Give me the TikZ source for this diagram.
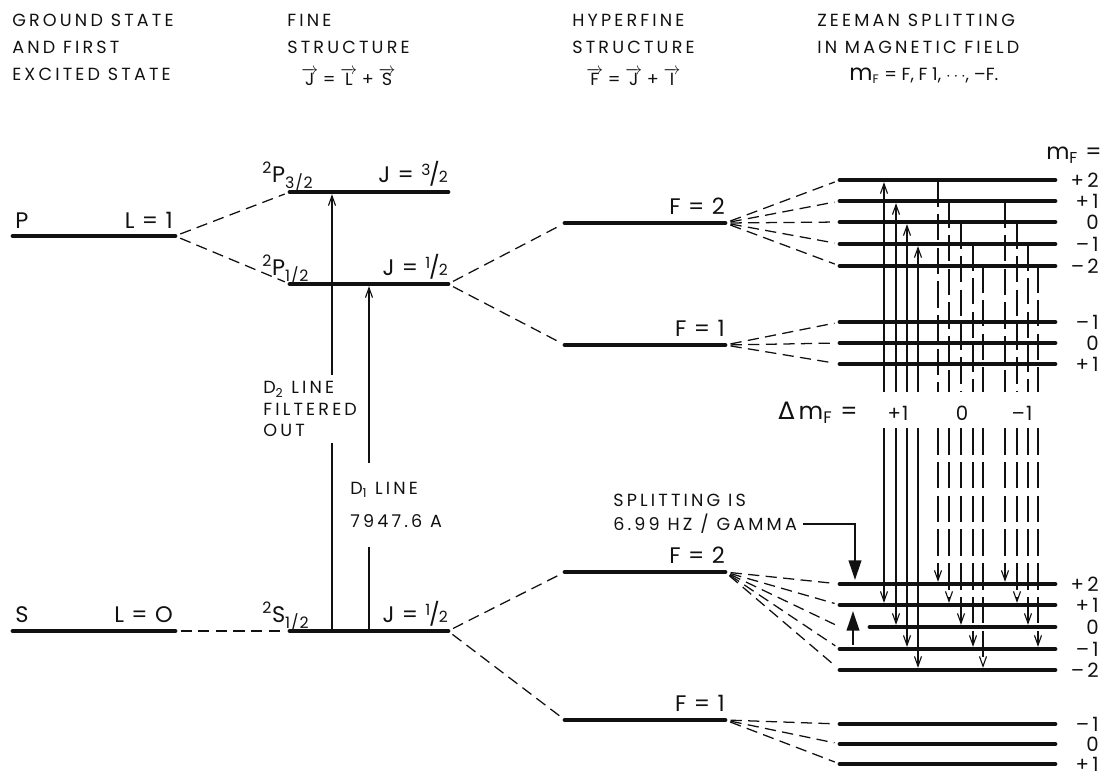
\documentclass[tikz,border=0pt]{standalone}
\usepackage{fontspec}
\usepackage{tikz}
\usetikzlibrary{arrows.meta,calc,positioning}
\setmainfont{Poppins}
\newfontfamily\capsfont[LetterSpace=18]{Poppins}
\newfontfamily\wideface[LetterSpace=6]{Poppins}
\newfontfamily\greekfont{DejaVu Sans}
\definecolor{ink}{HTML}{111111}
\newcommand{\slfrac}[2]{\raisebox{0.55ex}{\fontsize{11}{11}\selectfont #1}\kern-0.05em/\kern-0.05em{\fontsize{11}{11}\selectfont #2}}
\newcommand{\term}[3]{\textsuperscript{#1}#2\textsubscript{#3}}
\newcommand{\vecl}[1]{$\overrightarrow{\mbox{#1}}$}

\begin{document}
\begin{tikzpicture}[x=0.025cm, y=-0.025cm, ink,
    level/.style={line width=3.4pt, line cap=round},
    split/.style={line width=0.9pt, dash pattern=on 8pt off 4.5pt, shorten <=4pt, shorten >=4pt},
    trans/.style={line width=0.8pt},
    transdash/.style={trans, dash pattern=on 19pt off 5pt},
    tip/.style={-{Straight Barb[length=7pt,width=5pt]}, shorten >=1.5pt},
    bigtip/.style={-{Triangle[length=14pt,width=9pt]}},
    head/.style={font=\capsfont\fontsize{12.5}{19}\selectfont, align=left, inner sep=0pt},
    eqn/.style={font=\fontsize{12.5}{12.5}\selectfont, inner sep=0pt},
    lab/.style={font=\wideface\fontsize{16}{16}\selectfont, inner sep=0pt},
    mlab/.style={font=\wideface\fontsize{14}{14}\selectfont, inner sep=0pt, anchor=east},
    note/.style={font=\capsfont\fontsize{12.5}{15}\selectfont, inner sep=0pt, align=left}]

    \useasboundingbox (0,0) rectangle (1107,777);

    % Column headings
    \node[head, anchor=north west] (hground) at (12,14) {GROUND STATE\\AND FIRST\\EXCITED STATE};
    \node[head, anchor=north west] (hfine) at (287,14) {FINE\\STRUCTURE};
    \node[eqn] (jls) [below=10pt of hfine] {\vecl{J} = \vecl{L} + \vecl{S}};
    \node[head, anchor=north west] (hhyper) at (572,14) {HYPERFINE\\STRUCTURE};
    \node[eqn] (fji) [below=10pt of hhyper] {\vecl{F} = \vecl{J} + \vecl{I}};
    \node[head, anchor=north west] (hzeeman) at (817,14) {ZEEMAN SPLITTING\\IN MAGNETIC FIELD};
    \node[eqn] (mfdef) [below=10pt of hzeeman, xshift=4pt] {{\fontsize{16}{16}\selectfont m}\textsubscript{F} = F, F 1, $\cdots$, \textendash F.};

    % Term levels
    \foreach \name/\xa/\xb/\y in {P/13/175/236, S/13/175/631, P32/290/448/192, P12/290/448/284,
                                  S12/290/448/631, UF2/565/725/223, UF1/565/725/345,
                                  LF2/565/725/572, LF1/565/725/720} {
        \coordinate (\name-l) at (\xa,\y);
        \coordinate (\name-r) at (\xb,\y);
        \draw[level] (\name-l) -- (\name-r);
    }

    % Level labels
    \node[lab, anchor=base west] (tP) at (15,228) {P};
    \node[lab, anchor=base east] (tL1) at (173,228) {L = 1};
    \node[lab, anchor=base west] (tS) at (15,622) {S};
    \node[lab, anchor=base east] (tL0) at (173,622) {L = O};
    \node[lab, anchor=base west] (tP32) at (262,182) {\term{2}{P}{3/2}};
    \node[lab, anchor=base east] (tJ32) at (448,182) {J = \slfrac{3}{2}};
    \node[lab, anchor=base west] (tP12) at (262,275) {\term{2}{P}{1/2}};
    \node[lab, anchor=base east] (tJ12) at (448,275) {J = \slfrac{1}{2}};
    \node[lab, anchor=base west] (tS12) at (262,622) {\term{2}{S}{1/2}};
    \node[lab, anchor=base east] (tJS) at (448,622) {J = \slfrac{1}{2}};
    \node[lab, anchor=base east] (tUF2) at (725,214) {F = 2};
    \node[lab, anchor=base east] (tUF1) at (725,336) {F = 1};
    \node[lab, anchor=base east] (tLF2) at (725,563) {F = 2};
    \node[lab, anchor=base east] (tLF1) at (725,711) {F = 1};

    % Fine and hyperfine splitting
    \draw[split] (P-r) -- (P32-l);
    \draw[split] (P-r) -- (P12-l);
    \draw[split] (S-r) -- (S12-l);
    \draw[split] (P12-r) -- (UF2-l);
    \draw[split] (P12-r) -- (UF1-l);
    \draw[split] (S12-r) -- (LF2-l);
    \draw[split] (S12-r) -- (LF1-l);

    % Zeeman sublevels
    \node[lab, anchor=east] (mfhead) at (1102,155) {m\textsubscript{F} =};
    \foreach \m/\y/\lab in {2/180/+\,2, 1/201/+\,1, 0/222/0, -1/244/\textendash\,1, -2/266/\textendash\,2} {
        \coordinate (ua\m) at (840,\y);
        \draw[level] (ua\m) -- (1055,\y);
        \node[mlab] (tua\m) at (1099,\y) {\lab};
        \draw[split] (UF2-r) -- (ua\m);
    }
    \foreach \m/\y/\lab in {-1/322/\textendash\,1, 0/343/0, 1/364/+\,1} {
        \coordinate (ub\m) at (840,\y);
        \draw[level] (ub\m) -- (1055,\y);
        \node[mlab] (tub\m) at (1099,\y) {\lab};
        \draw[split] (UF1-r) -- (ub\m);
    }
    \foreach \m/\y/\xs/\lab in {2/584/840/+\,2, 1/605/840/+\,1, 0/627/870/0, -1/649/840/\textendash\,1, -2/670/840/\textendash\,2} {
        \coordinate (la\m) at (840,\y);
        \draw[level] (\xs,\y) -- (1055,\y);
        \node[mlab] (tla\m) at (1099,\y) {\lab};
        \draw[split] (LF2-r) -- (la\m);
    }
    \foreach \m/\y/\lab in {-1/724/\textendash\,1, 0/744/0, 1/764/+\,1} {
        \coordinate (lb\m) at (840,\y);
        \draw[level] (lb\m) -- (1055,\y);
        \node[mlab] (tlb\m) at (1099,\y) {\lab};
        \draw[split] (LF1-r) -- (lb\m);
    }

    % Transitions between sublevels
    \node[lab, font=\wideface\fontsize{17}{17}\selectfont] (dm) at (818,413) {{\greekfont Δ}\,m\textsubscript{F} =};
    \node[mlab, anchor=center] (dmp) at (898,413) {+1};
    \node[mlab, anchor=center] (dmz) at (962,413) {0};
    \node[mlab, anchor=center] (dmm) at (1022,413) {\textendash 1};
    \coordinate (gaptop) at (0,392);
    \coordinate (gapbot) at (0,428);
    \foreach \x/\up/\lo in {884/2/1, 896/1/0, 907/0/-1, 918/-1/-2} {
        \coordinate (col) at (\x,0);
        \draw[trans, tip] (gaptop -| col) -- (ua\up -| col);
        \draw[trans, tip] (gapbot -| col) -- (la\lo -| col);
    }
    \foreach \x/\up/\lo in {938/2/2, 949/1/1, 961/0/0, 973/-1/-1, 983/-2/-2,
                            1005/1/2, 1017/0/1, 1028/-1/0, 1038/-2/-1} {
        \coordinate (col) at (\x,0);
        \draw[transdash] (ua\up -| col) -- (gaptop -| col);
        \draw[transdash, tip] (gapbot -| col) -- (la\lo -| col);
    }

    % Splitting note and pumping arrow
    \node[note, anchor=west] (splitA) at (613,500) {SPLITTING IS};
    \node[note, anchor=west] (splitB) at (613,524) {6.99 HZ / GAMMA};
    \coordinate (splittip) at (855,580);
    \draw[line width=1.3pt, bigtip] ([xshift=4pt]splitB.east) -| (splittip);
    \coordinate (pumpfoot) at (853,645);
    \coordinate (pumphead) at (853,611);
    \draw[line width=1.3pt, bigtip] (pumpfoot) -- (pumphead);

    % D lines
    \node[note, anchor=west, minimum height=48pt] (d2txt) at (263,409) {D\textsubscript{2} LINE\\FILTERED\\OUT};
    \node[note, anchor=west, minimum height=60pt, font=\capsfont\fontsize{12.5}{24}\selectfont] (d1txt) at (350,505) {D\textsubscript{1} LINE\\7947.6 A};
    \coordinate (d2) at (332,0);
    \coordinate (d1) at (369,0);
    \draw[trans, tip] (d2txt.north -| d2) -- (d2 |- P32-l);
    \draw[trans] (d2 |- S12-l) -- (d2txt.south -| d2);
    \draw[trans, tip] (d1txt.north -| d1) -- (d1 |- P12-l);
    \draw[trans] (d1 |- S12-l) -- (d1txt.south -| d1);

\end{tikzpicture}
\end{document}
